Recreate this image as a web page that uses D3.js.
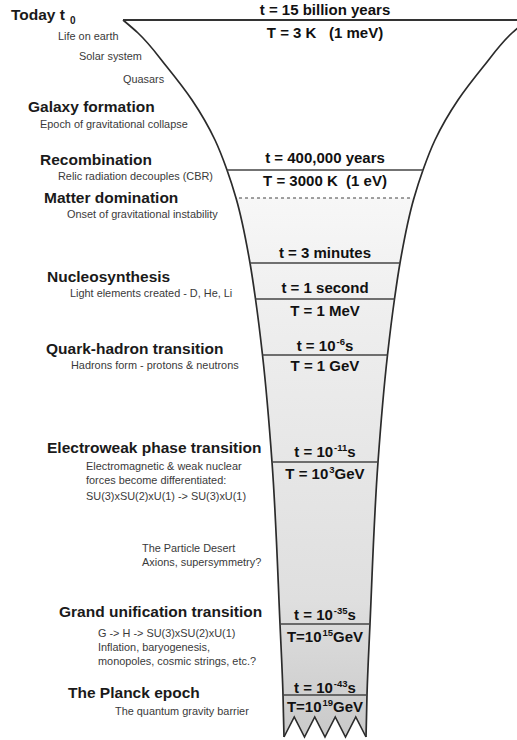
<!DOCTYPE html>
<html>
<head>
<meta charset="utf-8">
<script src="https://cdn.jsdelivr.net/npm/d3@7"></script>
<style>
  body { margin: 0; background: #fff; }
  svg { display: block; }
  text { font-family: "Liberation Sans", Arial, Helvetica, sans-serif; white-space: pre; }
</style>
</head>
<body>
<div id="graph"></div>
<script>
const width = 517, height = 740;

// funnel outline: depth down the page and half width of the funnel there
const profileDepth = [20, 33, 67, 100, 140, 170, 198, 263, 299, 355, 462, 624, 695, 717, 737];
const profileHalf  = [202, 187, 158, 133, 110, 98, 89, 75, 69.5, 62.5, 53, 45, 42, 41.5, 41];

// separators across the funnel
const solidLines = [170, 263, 299, 355, 462, 624, 695];
const dashedLines = [198];
const teeth = 4;

// time / temperature labels inside the funnel
const funnelBase = ["t = 15 billion years", "T = 3 K   (1 meV)", "t = 400,000 years", "T = 3000 K  (1 eV)",
                    "t = 3 minutes", "t = 1 second", "T = 1 MeV", "t = 10", "T = 1 GeV", "t = 10", "T = 10",
                    "t = 10", "T=10", "t = 10", "T=10"];
const funnelExp  = ["", "", "", "", "", "", "", "-6", "", "-11", "3", "-35", "15", "-43", "19"];
const funnelUnit = ["", "", "", "", "", "", "", "s", "", "s", "GeV", "s", "GeV", "s", "GeV"];
const funnelDepth = [15, 38, 163, 186, 258, 293, 316, 351, 371, 457, 479, 620, 642, 693, 712];

// epochs on the left
const titles = ["Today t", "Galaxy formation", "Recombination", "Matter domination", "Nucleosynthesis",
                "Quark-hadron transition", "Electroweak phase transition", "Grand unification transition",
                "The Planck epoch"];
const titleDepth  = [20, 112, 165, 203, 282, 354, 453, 617, 698];
const titleIndent = [11, 28, 40, 44, 47, 46, 47, 59, 68];

const notes = ["Life on earth", "Solar system", "Quasars", "Epoch of gravitational collapse",
               "Relic radiation decouples (CBR)", "Onset of gravitational instability",
               "Light elements created - D, He, Li", "Hadrons form - protons & neutrons",
               "Electromagnetic & weak nuclear", "forces become differentiated:",
               "SU(3)xSU(2)xU(1) -> SU(3)xU(1)", "The Particle Desert", "Axions, supersymmetry?",
               "G -> H -> SU(3)xSU(2)xU(1)", "Inflation, baryogenesis,",
               "monopoles, cosmic strings, etc.?", "The quantum gravity barrier"];
const noteDepth  = [40, 60, 83, 128, 180, 218, 297, 369, 470, 484, 500, 552, 566, 637, 651, 665, 715];
const noteIndent = [58, 79, 123, 40, 58, 67, 70, 71, 86, 86, 86, 142, 142, 98, 98, 98, 115];

let svg = d3.select("#graph")
    .append("svg")
    .attr("width", width)
    .attr("height", height);

let y = d3.scaleLinear().domain([0, 740]).range([0, 740]);
let x = d3.scaleLinear().domain([-250, 250]).range([75, 575]);   // 0 = funnel axis
let half = d3.scaleLinear().domain(profileDepth).range(profileHalf);

let profile = profileDepth.map((d, i) => ({depth: d, hw: profileHalf[i]}));

let grad = svg.append("defs").append("linearGradient")
    .attr("id", "shade")
    .attr("gradientUnits", "userSpaceOnUse")
    .attr("x1", 0).attr("x2", 0)
    .attr("y1", y(0)).attr("y2", y(740));
[[0, "#ffffff"], [198, "#ffffff"], [198, "#f7f7f7"], [320, "#eeeeee"], [600, "#dfdfdf"], [740, "#c9c9c9"]]
    .forEach(s => grad.append("stop").attr("offset", s[0] / 740).attr("stop-color", s[1]));

// funnel body
let area = d3.area()
    .y(d => y(d.depth))
    .x0(d => x(-d.hw))
    .x1(d => x(d.hw))
    .curve(d3.curveMonotoneY);

svg.append("path")
    .datum(profile)
    .attr("d", area)
    .attr("fill", "url(#shade)");

// zigzag bottom
let zx = d3.scaleLinear().domain([0, teeth * 2]).range([x(-half(737)), x(half(737))]);
let zig = d3.range(teeth * 2 + 1).map(i => [zx(i), i % 2 ? y(717) : y(737)]);

svg.append("g").selectAll("path")
    .data(d3.range(teeth))
    .enter()
    .append("path")
    .attr("d", i => d3.line()([zig[2 * i], zig[2 * i + 1], zig[2 * i + 2]]) + "Z")
    .attr("fill", "#fff");

svg.append("path")
    .attr("d", d3.line()(zig))
    .attr("fill", "none")
    .attr("stroke", "#2b2b2b")
    .attr("stroke-width", 1.6);

// funnel sides
[-1, 1].forEach(function(side) {
    svg.append("path")
        .datum(profile)
        .attr("d", d3.line().y(d => y(d.depth)).x(d => x(side * d.hw)).curve(d3.curveMonotoneY))
        .attr("fill", "none")
        .attr("stroke", "#2b2b2b")
        .attr("stroke-width", 1.7);
});

// top line
svg.append("line")
    .attr("x1", x(-half(20))).attr("x2", width + 10)
    .attr("y1", y(20)).attr("y2", y(20))
    .attr("stroke", "#333")
    .attr("stroke-width", 1.8);

svg.append("g").selectAll("line")
    .data(solidLines)
    .enter()
    .append("line")
    .attr("x1", d => x(-half(d))).attr("x2", d => x(half(d)))
    .attr("y1", d => y(d)).attr("y2", d => y(d))
    .attr("stroke", "#444")
    .attr("stroke-width", 1.5);

svg.append("g").selectAll("line")
    .data(dashedLines)
    .enter()
    .append("line")
    .attr("x1", d => x(-half(d)) + 3).attr("x2", d => x(half(d)) - 3)
    .attr("y1", d => y(d)).attr("y2", d => y(d))
    .attr("stroke", "#444")
    .attr("stroke-width", 1.2)
    .attr("stroke-dasharray", "3,3");

// labels in the funnel
let flabels = svg.append("g").selectAll("text")
    .data(funnelBase)
    .enter()
    .append("text")
    .attr("x", x(0))
    .attr("y", (d, i) => y(funnelDepth[i]))
    .style("text-anchor", "middle")
    .style("font-size", "15px")
    .style("font-weight", "bold")
    .style("fill", "#111");

flabels.each(function(d, i) {
    let t = d3.select(this);
    t.append("tspan").text(d);
    if (funnelExp[i] === "") return;
    t.append("tspan").attr("dy", -6).attr("dx", 1).style("font-size", "9.5px").text(funnelExp[i]);
    t.append("tspan").attr("dy", 6).text(funnelUnit[i]);
});

// epochs on the left
svg.append("g").selectAll("text")
    .data(titles)
    .enter()
    .append("text")
    .attr("x", (d, i) => titleIndent[i])
    .attr("y", (d, i) => y(titleDepth[i]))
    .style("font-size", "15.5px")
    .style("font-weight", "bold")
    .style("fill", "#1a1a1a")
    .text(d => d);

svg.append("text")
    .attr("x", 70)
    .attr("y", y(24))
    .style("font-size", "10px")
    .style("font-weight", "bold")
    .style("fill", "#1a1a1a")
    .text("0");

svg.append("g").selectAll("text")
    .data(notes)
    .enter()
    .append("text")
    .attr("x", (d, i) => noteIndent[i])
    .attr("y", (d, i) => y(noteDepth[i]))
    .style("font-size", "10.9px")
    .style("fill", "#3a3a3a")
    .text(d => d);
</script>
</body>
</html>
